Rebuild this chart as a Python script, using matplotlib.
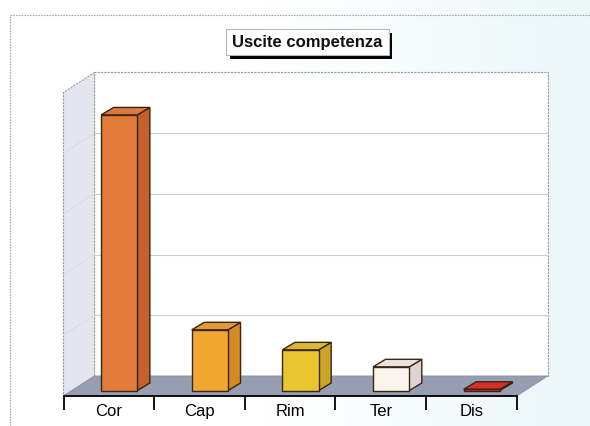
import numpy as np
from matplotlib import pyplot as plt
from matplotlib.patches import Polygon, Rectangle
from matplotlib.lines import Line2D
import matplotlib.patheffects as pe

plt.rcParams['font.family'] = ['Liberation Sans', 'DejaVu Sans']

categories = ['Cor', 'Cap', 'Rim', 'Ter', 'Dis']
values = [4.54, 1.0, 0.67, 0.39, 0.02]
front_colors = ['#e27a3a', '#f0a732', '#e9c630', '#fcf5ee', '#e2352a']
side_colors = ['#c4602a', '#d48a22', '#c9a626', '#ddd5d2', '#b82a20']
top_colors = ['#d97a3c', '#e09a38', '#d9b834', '#ebe5e1', '#d83026']
title = 'Uscite competenza'

y_max = 5
grid_levels = [1, 2, 3, 4]

# depth of the floor/walls and of the bars (data units)
dx, dy = 0.342, 0.330
bdx, bdy = 0.138, 0.124
bar_w = 0.40
bar_shift = 0.115
bar_base = 0.09

fig = plt.figure(figsize=(5.9, 4.26), dpi=100)

# light background tint, white on the left, pale cyan on the right
bg = fig.add_axes([0, 0, 1, 1], zorder=-5)
grad = np.linspace(0, 1, 256)
grad = np.clip((grad - 0.45) / 0.55, 0, 1)
c0 = np.array([1.0, 1.0, 1.0])
c1 = np.array([0.925, 0.97, 0.978])
img = c0[None, None, :] * (1 - grad[None, :, None]) + c1[None, None, :] * grad[None, :, None]
bg.imshow(img, aspect='auto', extent=[0, 1, 0, 1])
bg.set_axis_off()

# outer dashed frame
fig.add_artist(Line2D([10 / 590, 10 / 590], [0, 1 - 15 / 426], transform=fig.transFigure,
                      color='#a8a8a8', lw=0.8, ls=(0, (1.5, 1))))
fig.add_artist(Line2D([10 / 590, 1], [1 - 15 / 426, 1 - 15 / 426], transform=fig.transFigure,
                      color='#a8a8a8', lw=0.8, ls=(0, (1.5, 1))))

ax = fig.add_axes([63.5 / 590, 30 / 426, 453.2 / 590, 5 * 60.7 / 426])
ax.set_xlim(-0.5, len(categories) - 0.5)
ax.set_ylim(0, y_max)
ax.patch.set_alpha(0)

x_left, x_right = -0.5, len(categories) - 0.5

# back wall
ax.add_patch(Polygon([(x_left + dx, dy), (x_right + dx, dy), (x_right + dx, y_max + dy),
                      (x_left + dx, y_max + dy)], closed=True, facecolor='white',
                     edgecolor='#9a9a9a', lw=0.8, ls=(0, (2, 1)), clip_on=False, zorder=1))
# left wall
ax.add_patch(Polygon([(x_left, 0), (x_left + dx, dy), (x_left + dx, y_max + dy), (x_left, y_max)],
                     closed=True, facecolor='#e3e5f1', edgecolor='#9a9a9a', lw=0.8,
                     ls=(0, (2, 1)), clip_on=False, zorder=1))
# gridlines on the walls
for g in grid_levels:
    ax.plot([x_left + dx, x_right + dx], [g + dy, g + dy], color='#cdcdcd', lw=0.8,
            clip_on=False, zorder=2)
    ax.plot([x_left, x_left + dx], [g, g + dy], color='#d6d8e4', lw=0.6,
            clip_on=False, zorder=2)
# floor
ax.add_patch(Polygon([(x_left, 0), (x_right, 0), (x_right + dx, dy), (x_left + dx, dy)],
                     closed=True, facecolor='#989eb2', edgecolor='#8a90a4', lw=0.6,
                     clip_on=False, zorder=3))

# bars
for i, v in enumerate(values):
    x0 = i - bar_w / 2 + bar_shift
    y0 = bar_base
    front = Rectangle((x0, y0), bar_w, v, facecolor=front_colors[i], edgecolor='#3a2412',
                      lw=1.0, clip_on=False, zorder=5)
    side = Polygon([(x0 + bar_w, y0), (x0 + bar_w + bdx, y0 + bdy), (x0 + bar_w + bdx, y0 + v + bdy),
                    (x0 + bar_w, y0 + v)], closed=True, facecolor=side_colors[i],
                   edgecolor='#3a2412', lw=1.0, clip_on=False, zorder=4)
    top = Polygon([(x0, y0 + v), (x0 + bar_w, y0 + v), (x0 + bar_w + bdx, y0 + v + bdy),
                   (x0 + bdx, y0 + v + bdy)], closed=True, facecolor=top_colors[i],
                  edgecolor='#3a2412', lw=1.0, clip_on=False, zorder=4)
    ax.add_patch(side)
    ax.add_patch(top)
    ax.add_patch(front)

# axis
for s in ['top', 'right', 'left']:
    ax.spines[s].set_visible(False)
ax.spines['bottom'].set_linewidth(1.3)
ax.spines['bottom'].set_zorder(6)
ax.set_yticks([])
ax.set_xticks(np.arange(len(categories) + 1) - 0.5)
ax.set_xticklabels([])
ax.set_xticks(np.arange(len(categories)), minor=True)
ax.set_xticklabels(categories, minor=True, fontsize=12)
ax.tick_params(axis='x', which='major', direction='out', length=10, width=1.3, color='black')
ax.tick_params(axis='x', which='minor', length=0, pad=5.5)

# title box with shadow
t = fig.text(307.5 / 590, 1 - 42 / 426, title, ha='center', va='center', fontsize=12,
             fontweight='bold', color='#111111',
             bbox=dict(boxstyle='square,pad=0.35', facecolor='white', edgecolor='#b8b8b8', lw=0.8))
t.get_bbox_patch().set_path_effects([pe.SimplePatchShadow(offset=(2.8, -2.8), shadow_rgbFace='black',
                                                          alpha=1.0), pe.Normal()])

plt.savefig('out.png', dpi=100)
